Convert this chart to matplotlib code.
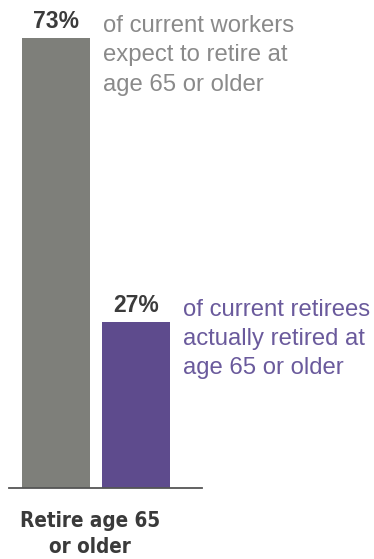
import matplotlib.pyplot as plt

# data
category = "Retire age 65\nor older"
groups = ["workers", "retirees"]
values = [73, 27]
value_labels = ["73%", "27%"]
notes = [
    "of current workers\nexpect to retire at\nage 65 or older",
    "of current retirees\nactually retired at\nage 65 or older",
]

bar_colors = ["#7e7f7a", "#5e4b8d"]
note_colors = ["#8a8a8a", "#6a5a9c"]

W, H, DPI = 374, 559, 100
fig = plt.figure(figsize=(W / DPI, H / DPI), dpi=DPI)

# axes placed in pixel terms: baseline at y=488, 73% bar top at y=38
left_px, right_px, base_px, top_px = 9, 202, 488, 38
ax = fig.add_axes([left_px / W, 1 - base_px / H,
                   (right_px - left_px) / W, (base_px - top_px) / H])

x = [0, 1]
width = 0.85
ax.bar(x, values, width=width, color=bar_colors)
ax.set_xlim((left_px - 56) / 80, (right_px - 56) / 80)
ax.set_ylim(0, max(values))

for xi, v, lab, note, nc in zip(x, values, value_labels, notes, note_colors):
    ax.annotate(lab, (xi, v), xytext=(0, 3.5), textcoords="offset points",
                ha="center", va="bottom", fontsize=16.5, fontweight="bold",
                color="#3b3b3b", family="Liberation Sans",
                annotation_clip=False)
    ax.annotate(note, (xi + width / 2, v), xytext=(9.7, -12.5),
                textcoords="offset points", ha="left", va="center",
                fontsize=17.2, color=nc, family="Liberation Sans",
                linespacing=1.42, annotation_clip=False)

# config
for s in ["top", "right", "left"]:
    ax.spines[s].set_visible(False)
ax.spines["bottom"].set_color("#555555")
ax.spines["bottom"].set_linewidth(1.3)
ax.set_xticks([])
ax.set_yticks([])

fig.text(90 / W, 1 - 534 / H, category, ha="center", va="center",
         fontsize=14.8, fontweight="bold", fontstretch="condensed",
         color="#3a3a3a", family="DejaVu Sans", linespacing=1.38)

plt.savefig("out.png", dpi=DPI)
